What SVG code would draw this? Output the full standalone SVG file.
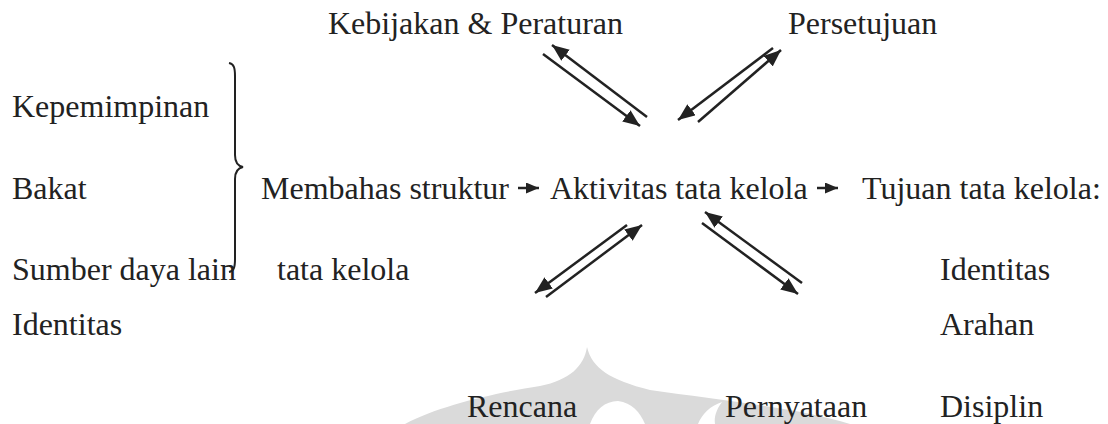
<svg xmlns="http://www.w3.org/2000/svg" width="1108" height="424" viewBox="0 0 1108 424">
<style>
text{font-family:"Liberation Serif","Times New Roman",serif;font-size:32px;fill:#222}
.c{stroke:#222;stroke-width:2.5;fill:none}
.wm{fill:#dadada}
.wh{fill:#ffffff}
</style>
<defs>
<marker id="ah" markerUnits="userSpaceOnUse" markerWidth="18" markerHeight="14" refX="17" refY="7" orient="auto">
<path d="M0,0 L17,7 L0,14 Z" fill="#222"/>
</marker>
<marker id="hs" markerUnits="userSpaceOnUse" markerWidth="14" markerHeight="12" refX="13" refY="5.5" orient="auto">
<path d="M0,0 L13,5.5 L0,11 Z" fill="#222"/>
</marker>
</defs>
<rect width="1108" height="424" fill="#fff"/>
<g id="watermark">
<path class="wm" d="M587,347 C592,368 610,380 650,390 C720,400 800,408 850,424 L405,424 C440,405 500,392 540,386 C570,380 584,366 587,347 Z"/>
<path class="wh" d="M590,424 C595,410 605,401 618,401 C632,403 640,412 645,424 Z"/>
<path class="wh" d="M698,424 C702,414 710,406 722,402 C716,410 714,417 715,424 Z"/>
</g>
<g id="n-kebijakan"><text x="328" y="34">Kebijakan &amp; Peraturan</text></g>
<g id="n-persetujuan"><text x="788" y="34">Persetujuan</text></g>
<g id="n-left">
<text x="12" y="117">Kepemimpinan</text>
<text x="12" y="199">Bakat</text>
<text x="12" y="280">Sumber daya lain</text>
<text x="12" y="335">Identitas</text>
<path class="c" style="stroke-width:2" d="M229,63 C234,64 235,68 235,76 L235,155 C235,162 238,166 243,167 C238,168 235,172 235,179 L235,259 C235,267 234,271 229,272"/>
</g>
<g id="n-membahas">
<text x="261" y="199">Membahas struktur</text>
<text x="277" y="280">tata kelola</text>
</g>
<g id="n-aktivitas"><text x="550" y="199">Aktivitas tata kelola</text></g>
<g id="n-tujuan">
<text x="862" y="199">Tujuan tata kelola:</text>
<text x="940" y="280">Identitas</text>
<text x="940" y="335">Arahan</text>
<text x="940" y="417">Disiplin</text>
</g>
<g id="n-rencana"><text x="467" y="417">Rencana</text></g>
<g id="n-pernyataan"><text x="725" y="417">Pernyataan</text></g>
<g id="connectors">
<line class="c" x1="518" y1="188" x2="539" y2="188" marker-end="url(#hs)"/>
<line class="c" x1="817" y1="188" x2="838" y2="188" marker-end="url(#hs)"/>
<line class="c" x1="647" y1="117" x2="552" y2="45" marker-end="url(#ah)"/>
<line class="c" x1="543" y1="54" x2="640" y2="126" marker-end="url(#ah)"/>
<line class="c" x1="773" y1="48" x2="678" y2="120" marker-end="url(#ah)"/>
<line class="c" x1="698" y1="122" x2="781" y2="50" marker-end="url(#ah)"/>
<line class="c" x1="627" y1="225" x2="535" y2="293" marker-end="url(#ah)"/>
<line class="c" x1="546" y1="297" x2="642" y2="225" marker-end="url(#ah)"/>
<line class="c" x1="802" y1="283" x2="705" y2="212" marker-end="url(#ah)"/>
<line class="c" x1="702" y1="223" x2="798" y2="294" marker-end="url(#ah)"/>
</g>
</svg>
